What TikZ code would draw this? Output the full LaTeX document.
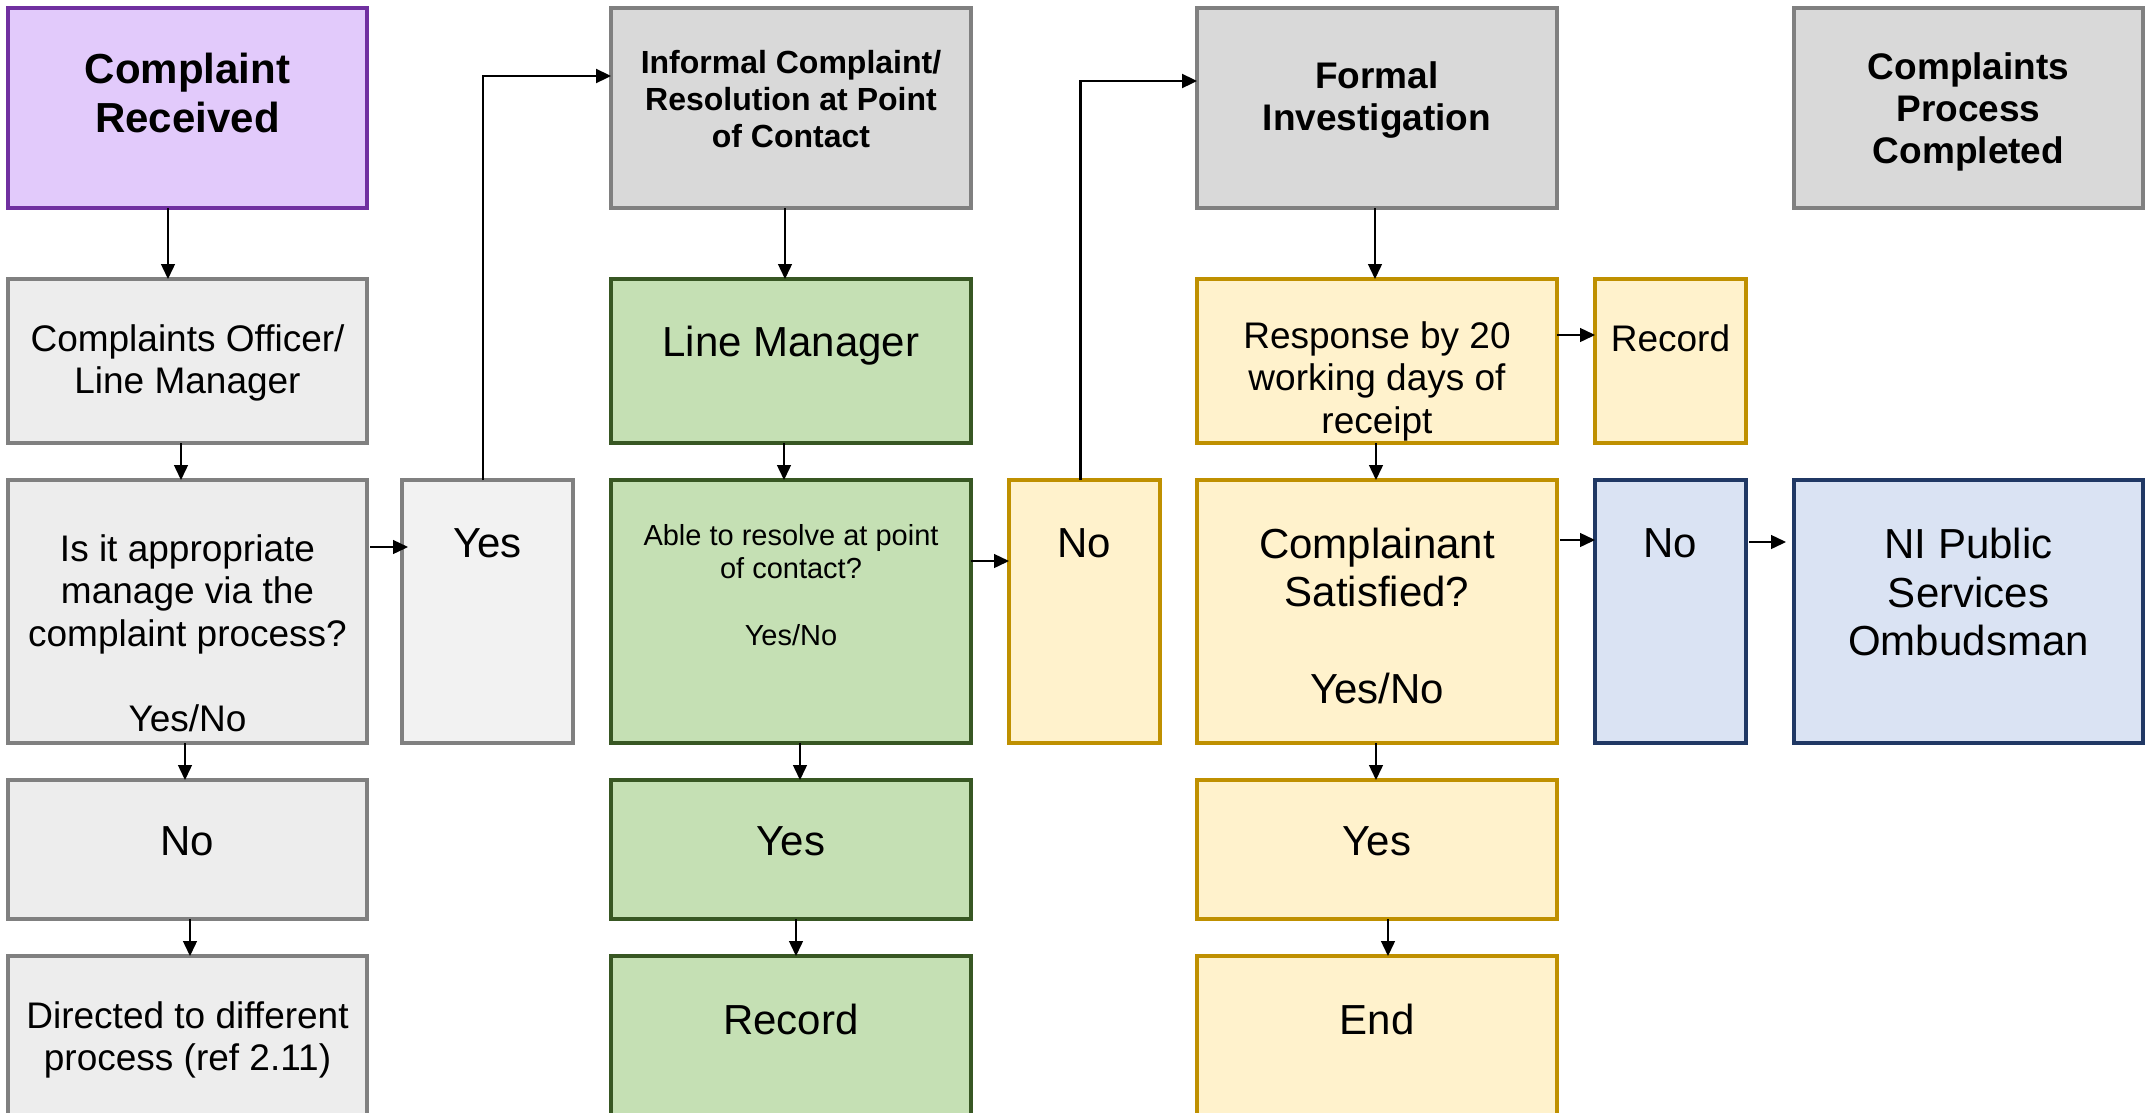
\documentclass[tikz,border=0pt]{standalone}
\usepackage{fontspec}
\setmainfont{Liberation Sans}
\usetikzlibrary{arrows.meta,calc}
\definecolor{purF}{HTML}{E2CAFB}
\definecolor{purD}{HTML}{7030A0}
\definecolor{grF}{HTML}{D9D9D9}
\definecolor{grD}{HTML}{808080}
\definecolor{lgF}{HTML}{EDEDED}
\definecolor{vlF}{HTML}{F2F2F2}
\definecolor{gnF}{HTML}{C5E0B4}
\definecolor{gnD}{HTML}{385723}
\definecolor{ylF}{HTML}{FFF2CC}
\definecolor{ylD}{HTML}{BF9000}
\definecolor{blF}{HTML}{DAE3F3}
\definecolor{blD}{HTML}{203864}
\newcommand\fsXL{\fontsize{42}{48.5}\selectfont}
\newcommand\fsL{\fontsize{37}{42.4}\selectfont}
\newcommand\fsM{\fontsize{32}{37}\selectfont}
\newcommand\fsS{\fontsize{29}{33.5}\selectfont}
\begin{document}
\begin{tikzpicture}[x=1pt,y=-1pt,
  bx/.style={draw, line width=3.5pt, inner sep=0pt, outer sep=0pt},
  purbox/.style={bx, draw=purD, fill=purF},
  graybox/.style={bx, draw=grD, fill=grF},
  lgbox/.style={bx, draw=grD, fill=lgF},
  vlbox/.style={bx, draw=grD, fill=vlF},
  gnbox/.style={bx, draw=gnD, fill=gnF},
  ylbox/.style={bx, draw=ylD, fill=ylF},
  blbox/.style={bx, draw=blD, fill=blF},
  tx/.style={align=center, inner sep=0pt, text depth=0pt},
  arr/.style={-{Triangle[length=15pt,width=14pt]}, line width=1.4pt},
  longarr/.style={arr, line width=2.3pt}]
\useasboundingbox (0,0) rectangle (2145,1112);
\clip (0,0) rectangle (2145,1112);
% ---- column 1
\node[purbox, minimum width=359pt, minimum height=200pt] (cr) at (187.5,108) {};
\node[lgbox, minimum width=359pt, minimum height=164pt] (off) at (187.5,361) {};
\node[lgbox, minimum width=359pt, minimum height=263pt] (q) at (187.5,611.5) {};
\node[lgbox, minimum width=359pt, minimum height=139pt] (no1) at (187.5,849.5) {};
\node[lgbox, minimum width=359pt, minimum height=184pt] (dir) at (187.5,1048) {};
% ---- column 2
\node[vlbox, minimum width=171pt, minimum height=263pt] (yes2) at (487.5,611.5) {};
% ---- column 3
\node[graybox, minimum width=360pt, minimum height=200pt] (inf) at (791,108) {};
\node[gnbox, minimum width=360pt, minimum height=164pt] (lm) at (791,361) {};
\node[gnbox, minimum width=360pt, minimum height=263pt] (able) at (791,611.5) {};
\node[gnbox, minimum width=360pt, minimum height=139pt] (yes3) at (791,849.5) {};
\node[gnbox, minimum width=360pt, minimum height=184pt] (rec3) at (791,1048) {};
% ---- column 4
\node[ylbox, minimum width=151pt, minimum height=263pt] (no4) at (1084.5,611.5) {};
% ---- column 5
\node[graybox, minimum width=360pt, minimum height=200pt] (formal) at (1377,108) {};
\node[ylbox, minimum width=360pt, minimum height=164pt] (resp) at (1377,361) {};
\node[ylbox, minimum width=360pt, minimum height=263pt] (sat) at (1377,611.5) {};
\node[ylbox, minimum width=360pt, minimum height=139pt] (yes5) at (1377,849.5) {};
\node[ylbox, minimum width=360pt, minimum height=184pt] (endb) at (1377,1048) {};
% ---- column 6
\node[ylbox, minimum width=151pt, minimum height=164pt] (rec6) at (1670.5,361) {};
\node[blbox, minimum width=151pt, minimum height=263pt] (no6) at (1670.5,611.5) {};
% ---- column 7
\node[graybox, minimum width=349pt, minimum height=200pt] (done) at (1968.5,108) {};
\node[blbox, minimum width=349pt, minimum height=263pt] (ni) at (1968.5,611.5) {};
% ---- texts
\node[tx, font=\fsXL\bfseries] (tcr) at (187.5,93) {Complaint\\Received};
\node[tx, font=\fsL] (toff) at (187.5,359) {Complaints Officer/\\Line Manager};
\node[tx, font=\fsL] (tq) at (187.5,633) {Is it appropriate\\manage via the\\complaint process?\\[43pt]Yes/No};
\node[tx, font=\fsXL] (tno1) at (187.5,841) {No};
\node[tx, font=\fsL] (tdir) at (187.5,1036) {Directed to different\\process (ref 2.11)};
\node[tx, font=\fsXL] (tyes2) at (487.5,543) {Yes};
\node[tx, font=\fsM\bfseries] (tinf) at (791,98.5) {Informal Complaint/\\Resolution at Point\\of Contact};
\node[tx, font=\fsXL] (tlm) at (791,341) {Line Manager};
\node[tx, font=\fsS] (table) at (791,585) {Able to resolve at point\\of contact?\\[33.5pt]Yes/No};
\node[tx, font=\fsXL] (tyes3) at (791,841) {Yes};
\node[tx, font=\fsXL] (trec3) at (791,1019) {Record};
\node[tx, font=\fsXL] (tno4) at (1084.5,543) {No};
\node[tx, font=\fsL\bfseries] (tformal) at (1377,96) {Formal\\Investigation};
\node[tx, font=\fsL] (tresp) at (1377,377.5) {Response by 20\\working days of\\receipt};
\node[tx, font=\fsXL] (tsat) at (1377,616) {Complainant\\Satisfied?\\[48.5pt]Yes/No};
\node[tx, font=\fsXL] (tyes5) at (1377,841) {Yes};
\node[tx, font=\fsXL] (tend) at (1377,1019) {End};
\node[tx, font=\fsL] (trec6) at (1670.5,338) {Record};
\node[tx, font=\fsXL] (tno6) at (1670.5,543) {No};
\node[tx, font=\fsL\bfseries] (tdone) at (1968.5,108) {Complaints\\Process\\Completed};
\node[tx, font=\fsXL] (tni) at (1968.5,592) {NI Public\\Services\\Ombudsman};
% ---- connectors, column 1
\draw[arr] ($(cr.south)+(-19.5,0)$) -- ($(off.north)+(-19.5,0)$);
\draw[arr] ($(off.south)+(-6.5,0)$) -- ($(q.north)+(-6.5,0)$);
\draw[arr] ($(q.south)+(-2.5,0)$) -- ($(no1.north)+(-2.5,0)$);
\draw[arr] ($(no1.south)+(2.5,0)$) -- ($(dir.north)+(2.5,0)$);
\draw[arr] ($(q.east)+(3,-64.5)$) -- ($(yes2.west)+(6,-64.5)$);
\draw[longarr] ($(yes2.north)+(-4.5,0)$) |- ($(inf.west)+(0,-32)$);
% ---- column 3
\draw[arr] ($(inf.south)+(-6,0)$) -- ($(lm.north)+(-6,0)$);
\draw[arr] ($(lm.south)+(-7,0)$) -- ($(able.north)+(-7,0)$);
\draw[arr] ($(able.south)+(9,0)$) -- ($(yes3.north)+(9,0)$);
\draw[arr] ($(yes3.south)+(5,0)$) -- ($(rec3.north)+(5,0)$);
\draw[arr] ($(able.east)+(0,-50.5)$) -- ($(no4.west)+(0,-50.5)$);
\draw[longarr] ($(no4.north)+(-4,0)$) |- ($(formal.west)+(0,-27)$);
% ---- column 5
\draw[arr] ($(formal.south)+(-2,0)$) -- ($(resp.north)+(-2,0)$);
\draw[arr] ($(resp.south)+(-1,0)$) -- ($(sat.north)+(-1,0)$);
\draw[arr] ($(sat.south)+(-1,0)$) -- ($(yes5.north)+(-1,0)$);
\draw[arr] ($(yes5.south)+(11,0)$) -- ($(endb.north)+(11,0)$);
\draw[arr] ($(resp.east)+(0,-26)$) -- ($(rec6.west)+(0,-26)$);
\draw[arr] ($(sat.east)+(3,-71.5)$) -- ($(no6.west)+(0,-71.5)$);
\draw[arr] ($(no6.east)+(3,-69.5)$) -- ($(ni.west)+(-8,-69.5)$);
\end{tikzpicture}
\end{document}
